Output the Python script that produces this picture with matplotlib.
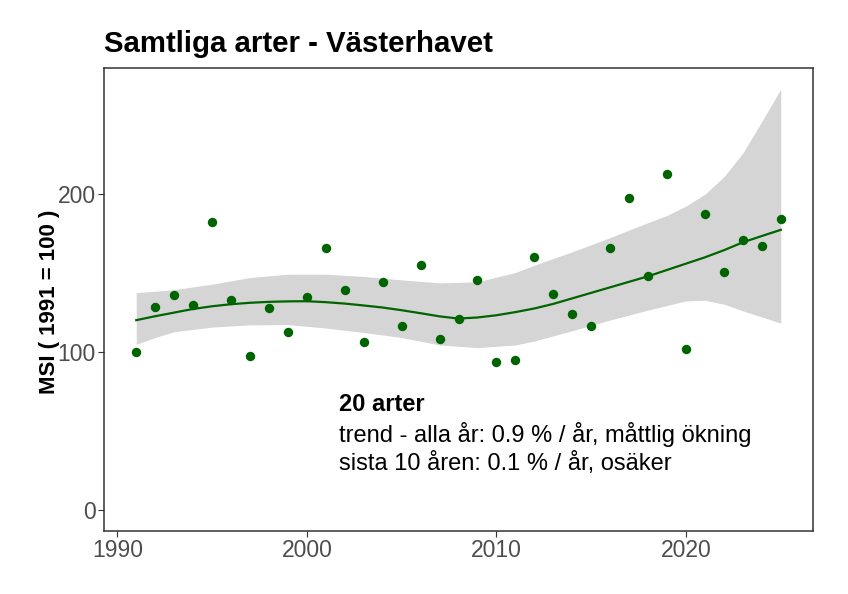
import matplotlib
matplotlib.use("Agg")
import matplotlib.pyplot as plt

plt.rcParams['font.family'] = ['Liberation Sans', 'DejaVu Sans']

years = list(range(1991, 2026))
msi = [100, 128.6, 136, 129.5, 182.5, 133, 97.5, 127.8, 112.7, 134.7,
       166.2, 139.2, 106.4, 144.5, 116.8, 155, 108.3, 121, 145.5, 94,
       94.8, 160, 136.9, 124.4, 116.6, 165.6, 197.7, 147.9, 212.7, 102,
       187.2, 151, 170.9, 167.1, 184.4]

smooth_years = list(range(1991, 2026))
smooth_fit = [120.2, 122.7, 125, 127.3, 129, 130.3, 131.2, 131.8, 132.1, 132.2,
              131.6, 130.7, 129.5, 128.2, 126.5, 124.6, 122.6, 121.2, 121.9, 123.3,
              125.3, 127.6, 130.5, 134, 137.5, 141, 144.5, 148, 152, 156,
              160, 164.5, 169.5, 173.5, 177.4]

band_years = [1991, 1992, 1993, 1995, 1997, 1999, 2001, 2003, 2005, 2007, 2009,
              2011, 2012, 2014, 2016, 2018, 2019, 2020, 2021, 2022, 2023, 2024, 2025]
band_upper = [137.7, 138.5, 139.5, 143, 147.2, 149.3, 149.3, 147.9, 145.7, 143.8, 144.5,
              150.4, 155, 163.5, 172.5, 182, 186.5, 192.5, 200, 211, 226, 246, 266.6]
band_lower = [104.9, 109.2, 112.9, 115.8, 117.2, 117.4, 115.2, 112.4, 109.2, 104.5, 102.8,
              104.5, 107, 113.5, 120.3, 126.6, 129.5, 132.4, 132.8, 130.3, 126.1, 122.2, 118.3]

title = "Samtliga arter - Västerhavet"
ylabel = "MSI ( 1991 = 100 )"
note_head = "20 arter"
note_lines = ["trend - alla år: 0.9 % / år, måttlig ökning",
              "sista 10 åren: 0.1 % / år, osäker"]
xticks = [1990, 2000, 2010, 2020]
yticks = [0, 100, 200]

fig = plt.figure(figsize=(8.48, 5.94), dpi=100)
ax = fig.add_axes([104/848, 1 - 531/594, (813-104)/848, (531-68)/594])

green = "#006400"
ax.fill_between(band_years, band_lower, band_upper, color="#D5D5D5", lw=0, zorder=1)
ax.plot(smooth_years, smooth_fit, color=green, lw=1.6, zorder=2)
ax.scatter(years, msi, s=46, color=green, zorder=3, lw=0)

ax.set_xlim(1989.3, 2026.7)
ax.set_ylim(-13.33, 279.9)
ax.set_xticks(xticks)
ax.set_yticks(yticks)
ax.tick_params(axis='both', colors="#333333", labelcolor="#4D4D4D", labelsize=16.5,
               length=4, width=0.8, direction='out', pad=2)
for s in ax.spines.values():
    s.set_color("#333333")
    s.set_linewidth(1.1)

fig.text(50/848, 1 - 302/594, ylabel, fontsize=16, fontweight='bold', va='center',
         ha='center', rotation=90)
fig.text(104/848, 1 - 44/594, title, fontsize=21.2, fontweight='bold', va='center', ha='left')

fig.text(339/848, 1 - 411/594, note_head, fontsize=17, fontweight='bold', va='baseline', ha='left')
for i, t in enumerate(note_lines):
    fig.text(339/848, 1 - [442, 470][i]/594, t, fontsize=17, va='baseline', ha='left')

fig.savefig("out.png", dpi=100)
